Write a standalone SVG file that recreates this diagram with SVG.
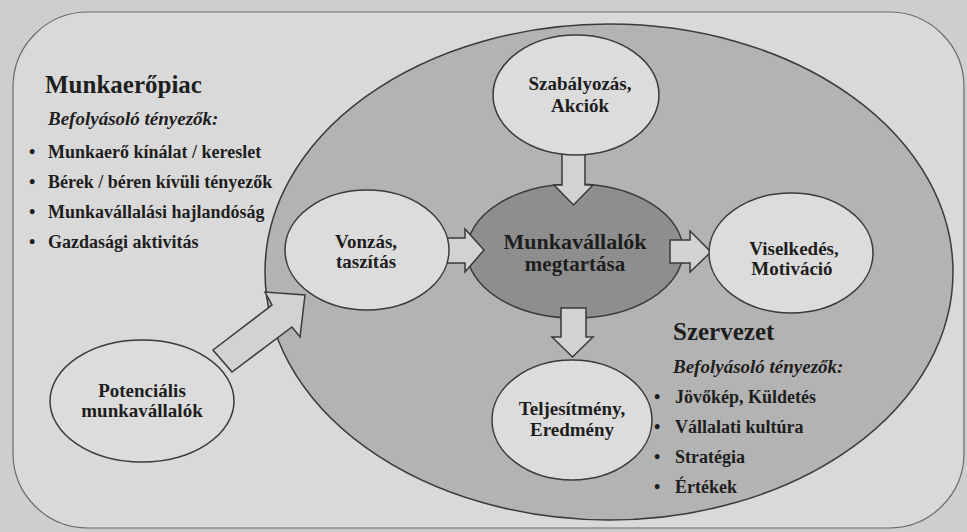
<svg xmlns="http://www.w3.org/2000/svg" width="967" height="532" viewBox="0 0 967 532">
<rect x="0" y="0" width="967" height="532" fill="#cecece"/>
<g id="outer-box">
<rect x="13" y="12" width="951" height="516" rx="75" ry="75" fill="#d9d9d9" stroke="#6a6a6a" stroke-width="1.2"/>
</g>
<g id="munkaeropiac-text" fill="#1e1e1e">
<text x="45" y="93" font-family="Liberation Serif, Times New Roman, serif" font-weight="bold" font-size="25">Munkaerőpiac</text>
<text x="48" y="125" font-family="Liberation Serif, Times New Roman, serif" font-weight="bold" font-style="italic" font-size="19">Befolyásoló tényezők:</text>
<text x="29" y="158" font-family="Liberation Serif, Times New Roman, serif" font-weight="bold" font-size="18">•</text><text x="48" y="158" font-family="Liberation Serif, Times New Roman, serif" font-weight="bold" font-size="18">Munkaerő kínálat / kereslet</text>
<text x="29" y="188" font-family="Liberation Serif, Times New Roman, serif" font-weight="bold" font-size="18">•</text><text x="48" y="188" font-family="Liberation Serif, Times New Roman, serif" font-weight="bold" font-size="18">Bérek / béren kívüli tényezők</text>
<text x="29" y="218" font-family="Liberation Serif, Times New Roman, serif" font-weight="bold" font-size="18">•</text><text x="48" y="218" font-family="Liberation Serif, Times New Roman, serif" font-weight="bold" font-size="18">Munkavállalási hajlandóság</text>
<text x="29" y="248" font-family="Liberation Serif, Times New Roman, serif" font-weight="bold" font-size="18">•</text><text x="48" y="248" font-family="Liberation Serif, Times New Roman, serif" font-weight="bold" font-size="18">Gazdasági aktivitás</text>
</g>
<g id="szervezet">
<ellipse cx="609" cy="272" rx="344" ry="248" fill="#b3b3b3" stroke="#3a3a3a" stroke-width="1.5"/>
</g>
<g id="megtartas" fill="#1e1e1e">
<ellipse cx="575" cy="251" rx="108" ry="67" fill="#8e8e8e" stroke="#3a3a3a" stroke-width="1.5"/>
<text x="575" y="249" font-family="Liberation Serif, Times New Roman, serif" font-weight="bold" font-size="22" text-anchor="middle">Munkavállalók</text>
<text x="575" y="271" font-family="Liberation Serif, Times New Roman, serif" font-weight="bold" font-size="21" text-anchor="middle">megtartása</text>
</g>
<g id="szervezet-text" fill="#1e1e1e">
<text x="673" y="340" font-family="Liberation Serif, Times New Roman, serif" font-weight="bold" font-size="25">Szervezet</text>
<text x="673" y="373" font-family="Liberation Serif, Times New Roman, serif" font-weight="bold" font-style="italic" font-size="19">Befolyásoló tényezők:</text>
<text x="654" y="403" font-family="Liberation Serif, Times New Roman, serif" font-weight="bold" font-size="18">•</text><text x="675" y="403" font-family="Liberation Serif, Times New Roman, serif" font-weight="bold" font-size="18">Jövőkép, Küldetés</text>
<text x="654" y="433" font-family="Liberation Serif, Times New Roman, serif" font-weight="bold" font-size="18">•</text><text x="675" y="433" font-family="Liberation Serif, Times New Roman, serif" font-weight="bold" font-size="18">Vállalati kultúra</text>
<text x="654" y="463" font-family="Liberation Serif, Times New Roman, serif" font-weight="bold" font-size="18">•</text><text x="675" y="463" font-family="Liberation Serif, Times New Roman, serif" font-weight="bold" font-size="18">Stratégia</text>
<text x="654" y="493" font-family="Liberation Serif, Times New Roman, serif" font-weight="bold" font-size="18">•</text><text x="675" y="493" font-family="Liberation Serif, Times New Roman, serif" font-weight="bold" font-size="18">Értékek</text>
</g>
<g id="connectors" fill="#d2d2d2" stroke="#3a3a3a" stroke-width="1.5">
<polygon points="562,148 585,148 585,185 593,185 573.5,205 554,185 562,185"/>
<polygon points="561,308 586,308 586,337 593,337 572.5,357 552,337 561,337"/>
<polygon points="670,240 690,240 690,231 711,252 690,272 690,263 670,263"/>
<polygon points="440,238 465,238 465,229 484,250 465,272 465,263 440,263"/>
<polygon points="213,350 272,305 265,292 305,295 300,337 292,327 232,372"/>
</g>
<g id="szabalyozas" fill="#1e1e1e">
<ellipse cx="576" cy="95" rx="83" ry="60" fill="#dcdcdc" stroke="#3a3a3a" stroke-width="1.5"/>
<text x="580" y="90" font-family="Liberation Serif, Times New Roman, serif" font-weight="bold" font-size="19" text-anchor="middle">Szabályozás,</text>
<text x="580" y="112" font-family="Liberation Serif, Times New Roman, serif" font-weight="bold" font-size="19" text-anchor="middle">Akciók</text>
</g>
<g id="vonzas" fill="#1e1e1e">
<ellipse cx="367" cy="250" rx="82" ry="60" fill="#dcdcdc" stroke="#3a3a3a" stroke-width="1.5"/>
<text x="366" y="248" font-family="Liberation Serif, Times New Roman, serif" font-weight="bold" font-size="19" text-anchor="middle">Vonzás,</text>
<text x="366" y="268" font-family="Liberation Serif, Times New Roman, serif" font-weight="bold" font-size="19" text-anchor="middle">taszítás</text>
</g>
<g id="viselkedes" fill="#1e1e1e">
<ellipse cx="791" cy="253" rx="82" ry="60" fill="#dcdcdc" stroke="#3a3a3a" stroke-width="1.5"/>
<text x="794" y="255" font-family="Liberation Serif, Times New Roman, serif" font-weight="bold" font-size="19" text-anchor="middle">Viselkedés,</text>
<text x="792" y="275" font-family="Liberation Serif, Times New Roman, serif" font-weight="bold" font-size="19" text-anchor="middle">Motiváció</text>
</g>
<g id="teljesitmeny" fill="#1e1e1e">
<ellipse cx="572" cy="420" rx="80" ry="60" fill="#dcdcdc" stroke="#3a3a3a" stroke-width="1.5"/>
<text x="572" y="415" font-family="Liberation Serif, Times New Roman, serif" font-weight="bold" font-size="19" text-anchor="middle">Teljesítmény,</text>
<text x="572" y="436" font-family="Liberation Serif, Times New Roman, serif" font-weight="bold" font-size="19" text-anchor="middle">Eredmény</text>
</g>
<g id="potencialis" fill="#1e1e1e">
<ellipse cx="142" cy="401" rx="92" ry="61" fill="#dcdcdc" stroke="#3a3a3a" stroke-width="1.5"/>
<text x="142" y="397" font-family="Liberation Serif, Times New Roman, serif" font-weight="bold" font-size="19" text-anchor="middle">Potenciális</text>
<text x="142" y="417" font-family="Liberation Serif, Times New Roman, serif" font-weight="bold" font-size="19" text-anchor="middle">munkavállalók</text>
</g>
</svg>
